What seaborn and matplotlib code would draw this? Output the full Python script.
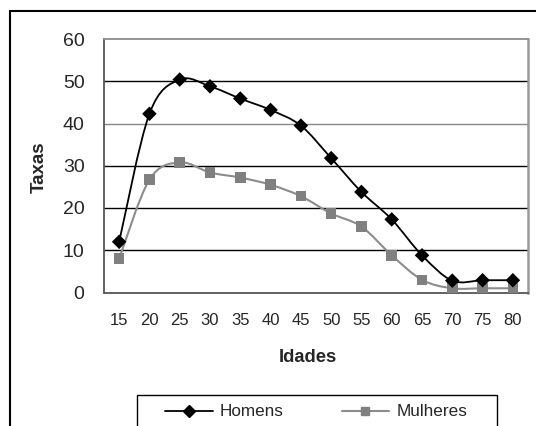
import numpy as np
import pandas as pd
import matplotlib
matplotlib.use("Agg")
import matplotlib.pyplot as plt
import seaborn as sns
from matplotlib.path import Path
from matplotlib.patches import PathPatch, Rectangle
from matplotlib.lines import Line2D

# Data
idades = [15, 20, 25, 30, 35, 40, 45, 50, 55, 60, 65, 70, 75, 80]
homens = [12.0, 42.3, 50.4, 48.8, 45.9, 43.2, 39.5, 31.8, 23.8, 17.3, 8.8, 2.8, 2.9, 2.9]
mulheres = [8.0, 26.7, 30.8, 28.4, 27.2, 25.5, 22.8, 18.7, 15.6, 8.8, 3.0, 1.0, 1.0, 1.0]
y_ticks = [0, 10, 20, 30, 40, 50, 60]

sns.set_style("white")
plt.rcParams["font.family"] = ["Liberation Sans", "DejaVu Sans"]

W, H = 536, 426
fig = plt.figure(figsize=(W / 100, H / 100), dpi=100)
ax = fig.add_axes([104 / W, (H - 292.5) / H, (528 - 104) / W, (292.5 - 39) / H])

df = pd.DataFrame({"Idades": idades, "Homens": homens, "Mulheres": mulheres})


# Excel-like smoothed line (bezier through the data points)
def smooth_path(xs, ys):
    pts = np.column_stack([xs, ys]).astype(float)
    n = len(pts)
    verts = [pts[0]]
    codes = [Path.MOVETO]
    for i in range(n - 1):
        p0 = pts[i - 1] if i > 0 else pts[i]
        p1 = pts[i]
        p2 = pts[i + 1]
        p3 = pts[i + 2] if i + 2 < n else pts[i + 1]
        verts += [p1 + (p2 - p0) / 6, p2 - (p3 - p1) / 6, p2]
        codes += [Path.CURVE4] * 3
    return Path(verts, codes)


ax.add_patch(PathPatch(smooth_path(df["Idades"], df["Mulheres"]), fill=False,
                       edgecolor="#8c8c8c", lw=1.5, zorder=3))
ax.add_patch(PathPatch(smooth_path(df["Idades"], df["Homens"]), fill=False,
                       edgecolor="black", lw=1.3, zorder=4))

sns.scatterplot(data=df, x="Idades", y="Mulheres", marker="s", s=58, color="#808080",
                edgecolor="none", linewidth=0, ax=ax, zorder=5)
sns.scatterplot(data=df, x="Idades", y="Homens", marker="D", s=55, color="black",
                edgecolor="none", linewidth=0, ax=ax, zorder=6)

ax.set_xlim(idades[0] - 2.5, idades[-1] + 2.5)
ax.set_ylim(0, 60)
ax.set_xlabel("")
ax.set_ylabel("")

# category axis: labels at centres, ticks between categories
ax.set_xticks(idades)
ax.set_xticklabels([str(a) for a in idades], fontsize=12)
ax.set_xticks([a + 2.5 for a in idades[:-1]] + [idades[0] - 2.5, idades[-1] + 2.5], minor=True)
ax.tick_params(axis="x", which="major", length=0, pad=15)
ax.tick_params(axis="x", which="minor", length=4, width=1, color="#444444", direction="out")
ax.set_yticks(y_ticks)
ax.set_yticklabels([str(v) for v in y_ticks], fontsize=14)
ax.tick_params(axis="y", length=4, width=1, color="#444444", direction="out", pad=10)

for v in y_ticks[1:-1]:
    ax.axhline(v, color="#888888" if v == 40 else "black", lw=1, zorder=1)

for side in ["left", "bottom"]:
    ax.spines[side].set_color("#555555")
    ax.spines[side].set_linewidth(1.3)
ax.spines["top"].set_color("#8c8c8c")
ax.spines["top"].set_linewidth(1.3)
ax.spines["right"].set_color("#999999")
ax.spines["right"].set_linewidth(1.8)

fig.text(39 / W, 1 - 167 / H, "Taxas", rotation=90, ha="center", va="center",
         fontsize=13.5, fontweight="bold")
fig.text(308 / W, 1 - 357 / H, "Idades", ha="center", va="center",
         fontsize=13.2, fontweight="bold")

# outer chart border and legend box (both run past the bottom edge)
fig.patches.append(Rectangle((10 / W, -0.2), 1.0, (H - 11) / H + 0.2, fill=False,
                             edgecolor="black", lw=1.5, transform=fig.transFigure))
fig.patches.append(Rectangle((137 / W, -0.2), (497 - 137) / W, (H - 395) / H + 0.2,
                             fill=False, edgecolor="black", lw=1, transform=fig.transFigure))

handles = [
    Line2D([], [], color="black", lw=1.3, marker="D", markersize=6),
    Line2D([], [], color="#8c8c8c", lw=1.5, marker="s", markerfacecolor="#808080",
           markeredgecolor="#808080", markersize=6),
]
fig.legend(handles, ["Homens", "Mulheres"], loc="center", ncol=2, frameon=False,
           bbox_to_anchor=(316 / W, 1 - 412 / H), fontsize=12.3, handlelength=2.8,
           handletextpad=0.4, columnspacing=3.4)

fig.savefig("out.png", dpi=100)
